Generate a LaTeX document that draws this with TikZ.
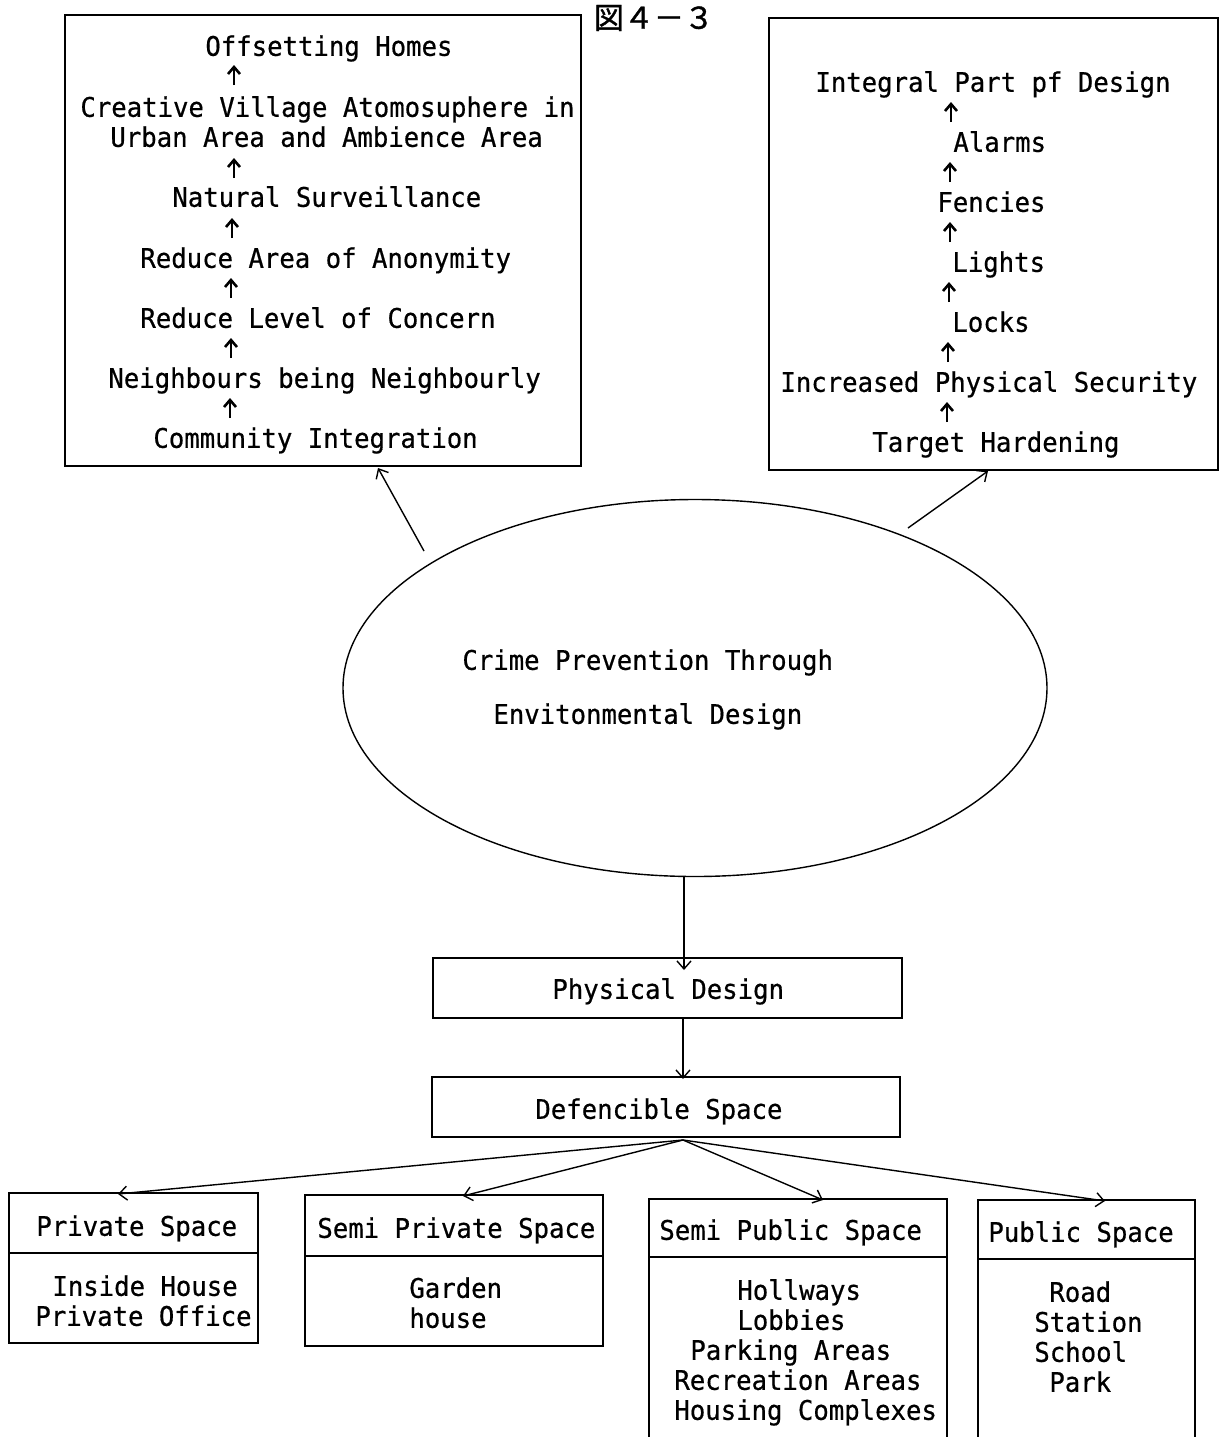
\documentclass[tikz,border=0pt]{standalone}
\usepackage{fontspec}
\setmonofont[FakeStretch=0.95,FakeBold=0.6]{DejaVu Sans Mono}
\newfontfamily\jpfont[FakeBold=1.2]{Noto Sans CJK JP}
\usetikzlibrary{arrows.meta,shapes.geometric}
\begin{document}
\begin{tikzpicture}[x=0.5pt,y=-0.5pt,
  txt/.style={anchor=west, inner sep=0pt, font=\ttfamily\fontsize{13.5pt}{16pt}\selectfont, text height=9.8pt, text depth=0pt},
  box/.style={draw, line width=0.85pt, anchor=north west, inner sep=0pt, outer sep=0pt},
  con/.style={line width=0.7pt, -{Straight Barb[length=4pt,width=7pt]}},
  uparr/.style={line width=1.3pt, -{Straight Barb[length=3.5pt,width=6pt]}}]
\useasboundingbox (0,0) rectangle (1221,1437);
\clip (0,0) rectangle (1221,1437);

% title
\node[font=\jpfont\fontsize{15pt}{15pt}\selectfont, inner sep=0pt] (title) at (654,18) {図４－３};

% left box
\node[box, minimum width=258pt, minimum height=225.5pt] (lbox) at (65,15) {};
\node[txt] (l1) at (205,46) {Offsetting Homes};
\node[txt] (l2a) at (80,107) {Creative Village Atomosuphere in};
\node[txt] (l2b) at (110,137) {Urban Area and Ambience Area};
\node[txt] (l3) at (172,197) {Natural Surveillance};
\node[txt] (l4) at (140,258) {Reduce Area of Anonymity};
\node[txt] (l5) at (140,318) {Reduce Level of Concern};
\node[txt] (l6) at (108,378) {Neighbours being Neighbourly};
\node[txt] (l7) at (153,438) {Community Integration};
\coordinate (la1) at (234,85); \coordinate (lb1) at (234,65);
\coordinate (la2) at (234,178); \coordinate (lb2) at (234,158);
\coordinate (la3) at (232,238); \coordinate (lb3) at (232,218);
\coordinate (la4) at (231,298); \coordinate (lb4) at (231,278);
\coordinate (la5) at (231,358); \coordinate (lb5) at (231,338);
\coordinate (la6) at (230,418); \coordinate (lb6) at (230,398);
\foreach \i in {1,...,6} \draw[uparr] (la\i) -- (lb\i);

% right box
\node[box, minimum width=224.5pt, minimum height=226pt] (rbox) at (769,18) {};
\node[txt] (r1) at (815,82) {Integral Part pf Design};
\node[txt] (r2) at (953,142) {Alarms};
\node[txt] (r3) at (937,202) {Fencies};
\node[txt] (r4) at (952,262) {Lights};
\node[txt] (r5) at (952,322) {Locks};
\node[txt] (r6) at (780,382) {Increased Physical Security};
\node[txt] (r7) at (872,442) {Target Hardening};
\coordinate (ra1) at (951,122); \coordinate (rb1) at (951,102);
\coordinate (ra2) at (950,182); \coordinate (rb2) at (950,162);
\coordinate (ra3) at (950,242); \coordinate (rb3) at (950,222);
\coordinate (ra4) at (949,302); \coordinate (rb4) at (949,282);
\coordinate (ra5) at (948,362); \coordinate (rb5) at (948,342);
\coordinate (ra6) at (947,422); \coordinate (rb6) at (947,402);
\foreach \i in {1,...,6} \draw[uparr] (ra\i) -- (rb\i);

% ellipse
\node[draw, ellipse, line width=0.7pt, minimum width=352pt, minimum height=188.5pt, inner sep=0pt] (ell) at (695,688) {};
\node[txt] (e1) at (462,660) {Crime Prevention Through};
\node[txt] (e2) at (493,714) {Envitonmental Design};

\coordinate (ls) at (424,551); \coordinate (le) at (378,468);
\coordinate (rs) at (908,528); \coordinate (re) at (988,471);
\draw[con] (ls) -- (le);
\draw[con] (rs) -- (re);

% physical design / defencible space
\node[box, minimum width=234.5pt, minimum height=30pt] (pbox) at (433,958) {};
\node[txt] (ptext) at (552,989) {Physical Design};
\node[box, minimum width=234pt, minimum height=30pt] (dbox) at (432,1077) {};
\node[txt] (dtext) at (535,1109) {Defencible Space};

\coordinate (es) at (684,877); \coordinate (ee) at (684,970);
\draw[con] (es) -- (ee);
\coordinate (ps) at (683,1019); \coordinate (pe) at (683,1079);
\draw[con] (ps) -- (pe);

% bottom boxes
\node[box, minimum width=124.5pt, minimum height=75pt] (b1) at (9,1193) {};
\draw[line width=0.85pt] (9,1253) -- (258,1253);
\node[txt] (b1h) at (36,1226) {Private Space};
\node[txt] (b1a) at (52,1286) {Inside House};
\node[txt] (b1b) at (35,1316) {Private Office};

\node[box, minimum width=149pt, minimum height=75.5pt] (b2) at (305,1195) {};
\draw[line width=0.85pt] (305,1256) -- (603,1256);
\node[txt] (b2h) at (317,1228) {Semi Private Space};
\node[txt] (b2a) at (409,1288) {Garden};
\node[txt] (b2b) at (409,1318) {house};

\node[box, minimum width=149pt, minimum height=130.5pt] (b3) at (649,1199) {};
\draw[line width=0.85pt] (649,1257) -- (947,1257);
\node[txt] (b3h) at (659,1230) {Semi Public Space};
\node[txt] (b3a) at (737,1290) {Hollways};
\node[txt] (b3b) at (737,1320) {Lobbies};
\node[txt] (b3c) at (690,1350) {Parking Areas};
\node[txt] (b3d) at (674,1380) {Recreation Areas};
\node[txt] (b3e) at (674,1410) {Housing Complexes};

\node[box, minimum width=108.5pt, minimum height=130pt] (b4) at (978,1200) {};
\draw[line width=0.85pt] (978,1259) -- (1195,1259);
\node[txt] (b4h) at (988,1232) {Public Space};
\node[txt] (b4a) at (1049,1292) {Road};
\node[txt] (b4b) at (1034,1322) {Station};
\node[txt] (b4c) at (1034,1352) {School};
\node[txt] (b4d) at (1049,1382) {Park};

\coordinate (fan) at (683,1140);
\coordinate (t1) at (118,1194);
\coordinate (t2) at (463,1196);
\coordinate (t3) at (823,1200);
\coordinate (t4) at (1105,1201);
\foreach \i in {1,...,4} \draw[con] (fan) -- (t\i);
\end{tikzpicture}
\end{document}
